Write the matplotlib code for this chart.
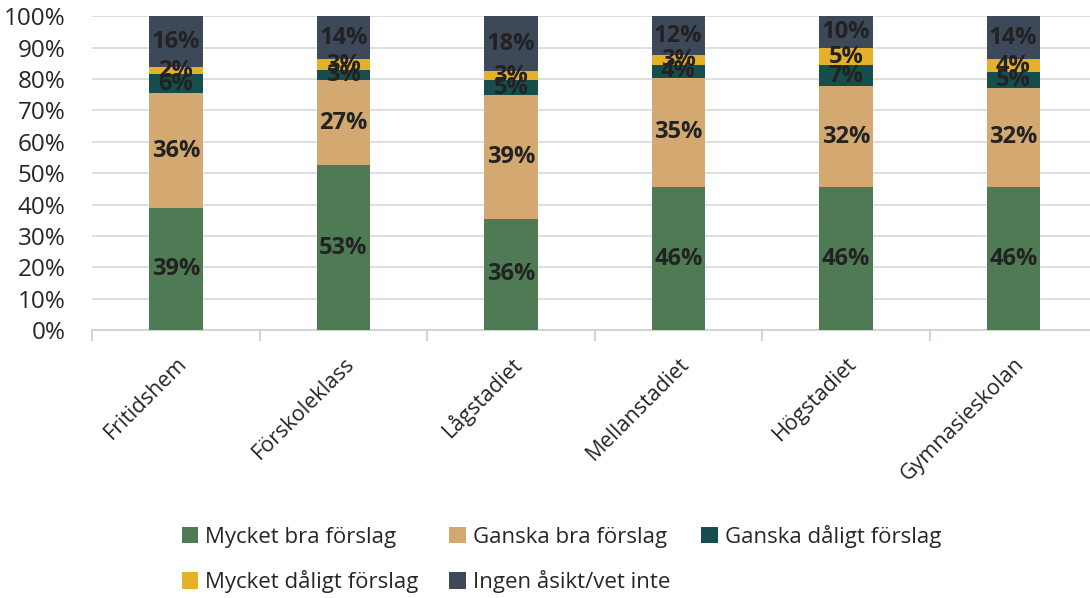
import matplotlib
matplotlib.use("Agg")
import matplotlib.pyplot as plt
from matplotlib.ticker import FuncFormatter, MultipleLocator
from matplotlib.transforms import ScaledTranslation

categories = ["Fritidshem", "Förskoleklass", "Lågstadiet", "Mellanstadiet", "Högstadiet", "Gymnasieskolan"]
series_names = ["Mycket bra förslag", "Ganska bra förslag", "Ganska dåligt förslag",
                "Mycket dåligt förslag", "Ingen åsikt/vet inte"]
mycket_bra = [39.0, 52.6, 35.5, 45.6, 45.6, 45.6]
ganska_bra = [36.4, 27.0, 39.3, 34.8, 32.1, 31.6]
ganska_daligt = [6.1, 3.3, 4.8, 4.0, 6.6, 5.0]
mycket_daligt = [2.2, 3.3, 2.8, 3.1, 5.4, 4.0]
ingen_asikt = [16.2, 13.8, 17.6, 12.5, 10.3, 13.8]
colors = ["#4E7B54", "#D3A971", "#154E4D", "#E6B12A", "#3D4859"]

plt.rcParams['font.family'] = ['Open Sans', 'DejaVu Sans']

fig = plt.figure(figsize=(10.9, 5.98), dpi=100)
ax = fig.add_axes([0.0845, 0.448, 0.922, 0.525])

series = [mycket_bra, ganska_bra, ganska_daligt, mycket_daligt, ingen_asikt]
x = list(range(len(categories)))
bottom = [0.0] * len(categories)
for name, vals, col in zip(series_names, series, colors):
    ax.bar(x, vals, width=0.32, bottom=bottom, color=col, label=name, zorder=3)
    for xi, b, v in zip(x, bottom, vals):
        ax.text(xi, b + v / 2, f"{round(v):.0f}%", ha="center", va="center",
                fontsize=17, fontweight="bold", color="#222222", zorder=4)
    bottom = [b + v for b, v in zip(bottom, vals)]

ax.set_ylim(0, 100)
ax.set_xlim(-0.5, len(categories) - 0.5)
ax.yaxis.set_major_locator(MultipleLocator(10))
ax.yaxis.set_major_formatter(FuncFormatter(lambda v, p: f"{v:.0f}%"))
ax.grid(axis="y", color="#D5DADA", linewidth=1.2, zorder=0)
ax.set_axisbelow(True)
for s in ["top", "right", "left"]:
    ax.spines[s].set_visible(False)
ax.spines["bottom"].set_color("#D0D5D5")
ax.spines["bottom"].set_linewidth(1.5)
ax.tick_params(axis="y", length=0, pad=19, labelsize=17.5, labelcolor="#262626")

ax.set_xticks(x)
ax.set_xticklabels(categories, rotation=45, ha="right", va="center", rotation_mode="anchor",
                   fontsize=15.5, color="#262626")
ax.tick_params(axis="x", length=0, pad=22)
for lbl in ax.get_xticklabels():
    lbl.set_transform(lbl.get_transform() + ScaledTranslation(0.08, 0, fig.dpi_scale_trans))
ax.set_xticks([i - 0.5 for i in range(len(categories) + 1)], minor=True)
ax.tick_params(axis="x", which="minor", length=8, width=1.5, color="#D0D5D5")

handles, labels = ax.get_legend_handles_labels()
order = [0, 3, 1, 4, 2]
fig.legend([handles[i] for i in order], [labels[i] for i in order],
           loc="center", bbox_to_anchor=(0.515, 0.065), ncol=3,
           frameon=False, fontsize=16, handlelength=0.75, handleheight=0.75,
           handletextpad=0.3, columnspacing=1.4, labelspacing=1.0,
           labelcolor="#262626")

fig.savefig("out.png", dpi=100)
